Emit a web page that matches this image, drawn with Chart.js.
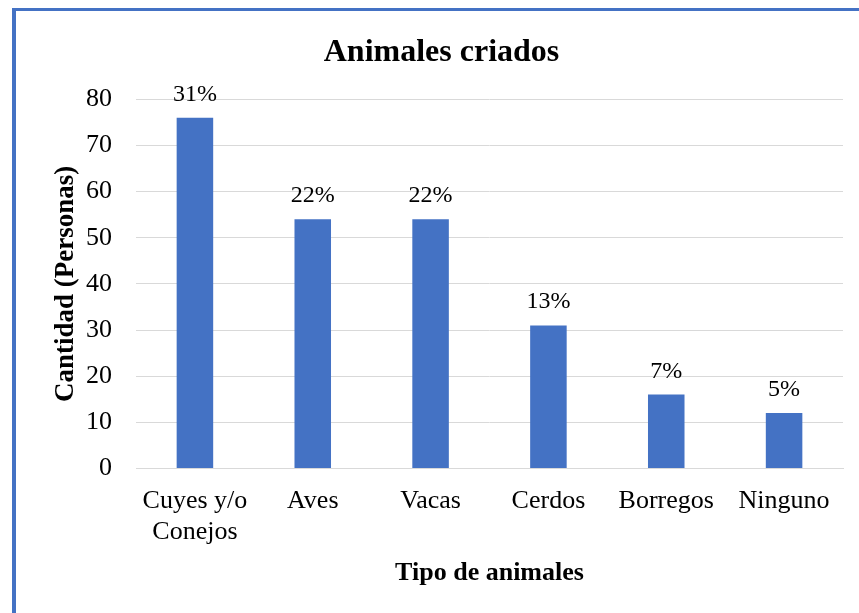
<!DOCTYPE html>
<html>
<head>
<meta charset="utf-8">
<script src="https://cdn.jsdelivr.net/npm/chart.js@4/dist/chart.umd.min.js"></script>
<style>
  html, body { margin: 0; padding: 0; background: #fff; }
  #wrap { position: relative; width: 859px; height: 613px; overflow: hidden; }
  #frame {
    position: absolute; left: 12px; top: 8px; width: 900px; height: 700px;
    border-left: 4px solid #4472C4; border-top: 3px solid #4472C4;
    pointer-events: none;
  }
  canvas { position: absolute; left: 0; top: 0; }
</style>
</head>
<body>
<div id="wrap">
  <canvas id="chart" width="859" height="613"></canvas>
  <div id="frame"></div>
</div>
<script>
// chart data
const categories  = [["Cuyes y/o", "Conejos"], "Aves", "Vacas", "Cerdos", "Borregos", "Ninguno"];
const cantidades  = [76, 54, 54, 31, 16, 12];
const porcentajes = ["31%", "22%", "22%", "13%", "7%", "5%"];

const serif = "'Liberation Serif', 'Times New Roman', serif";

// draws the percent label above each bar
const percentLabels = {
  id: "percentLabels",
  afterDatasetsDraw(chart) {
    const ctx  = chart.ctx;
    const meta = chart.getDatasetMeta(0);
    ctx.save();
    ctx.font = "24px " + serif;
    ctx.fillStyle = "#000";
    ctx.textAlign = "center";
    ctx.textBaseline = "alphabetic";
    meta.data.forEach((bar, i) => {
      ctx.fillText(porcentajes[i], bar.x, bar.y - 17);
    });
    ctx.restore();
  }
};

new Chart(document.getElementById("chart"), {
  type: "bar",
  data: {
    labels: categories,
    datasets: [{
      data: cantidades,
      backgroundColor: "#4472C4",
      categoryPercentage: 1,
      barPercentage: 0.31
    }]
  },
  options: {
    responsive: false,
    animation: false,
    layout: { padding: { left: 40, right: 16, top: 34, bottom: 24 } },
    plugins: {
      legend: { display: false },
      tooltip: { enabled: false },
      title: {
        display: true,
        text: "Animales criados",
        color: "#000",
        font: { family: serif, size: 32, weight: "bold" },
        padding: { top: 0, bottom: 27 }
      }
    },
    scales: {
      x: {
        grid: { display: false },
        border: { color: "#d9d9d9" },
        ticks: {
          color: "#000",
          font: { family: serif, size: 26 },
          maxRotation: 0,
          padding: 9
        },
        title: {
          display: true,
          text: "Tipo de animales",
          color: "#000",
          font: { family: serif, size: 26, weight: "bold" },
          padding: { top: 1, bottom: 0 }
        }
      },
      y: {
        min: 0,
        max: 80,
        afterFit: scale => { scale.width = 96; },
        ticks: {
          stepSize: 10,
          color: "#000",
          font: { family: serif, size: 26 },
          padding: 24
        },
        grid: { color: "#d9d9d9", drawTicks: false },
        border: { display: false },
        title: {
          display: true,
          text: "Cantidad (Personas)",
          color: "#000",
          font: { family: serif, size: 27, weight: "bold" },
          padding: { top: 10, bottom: 0 }
        }
      }
    }
  },
  plugins: [percentLabels]
});
</script>
</body>
</html>
